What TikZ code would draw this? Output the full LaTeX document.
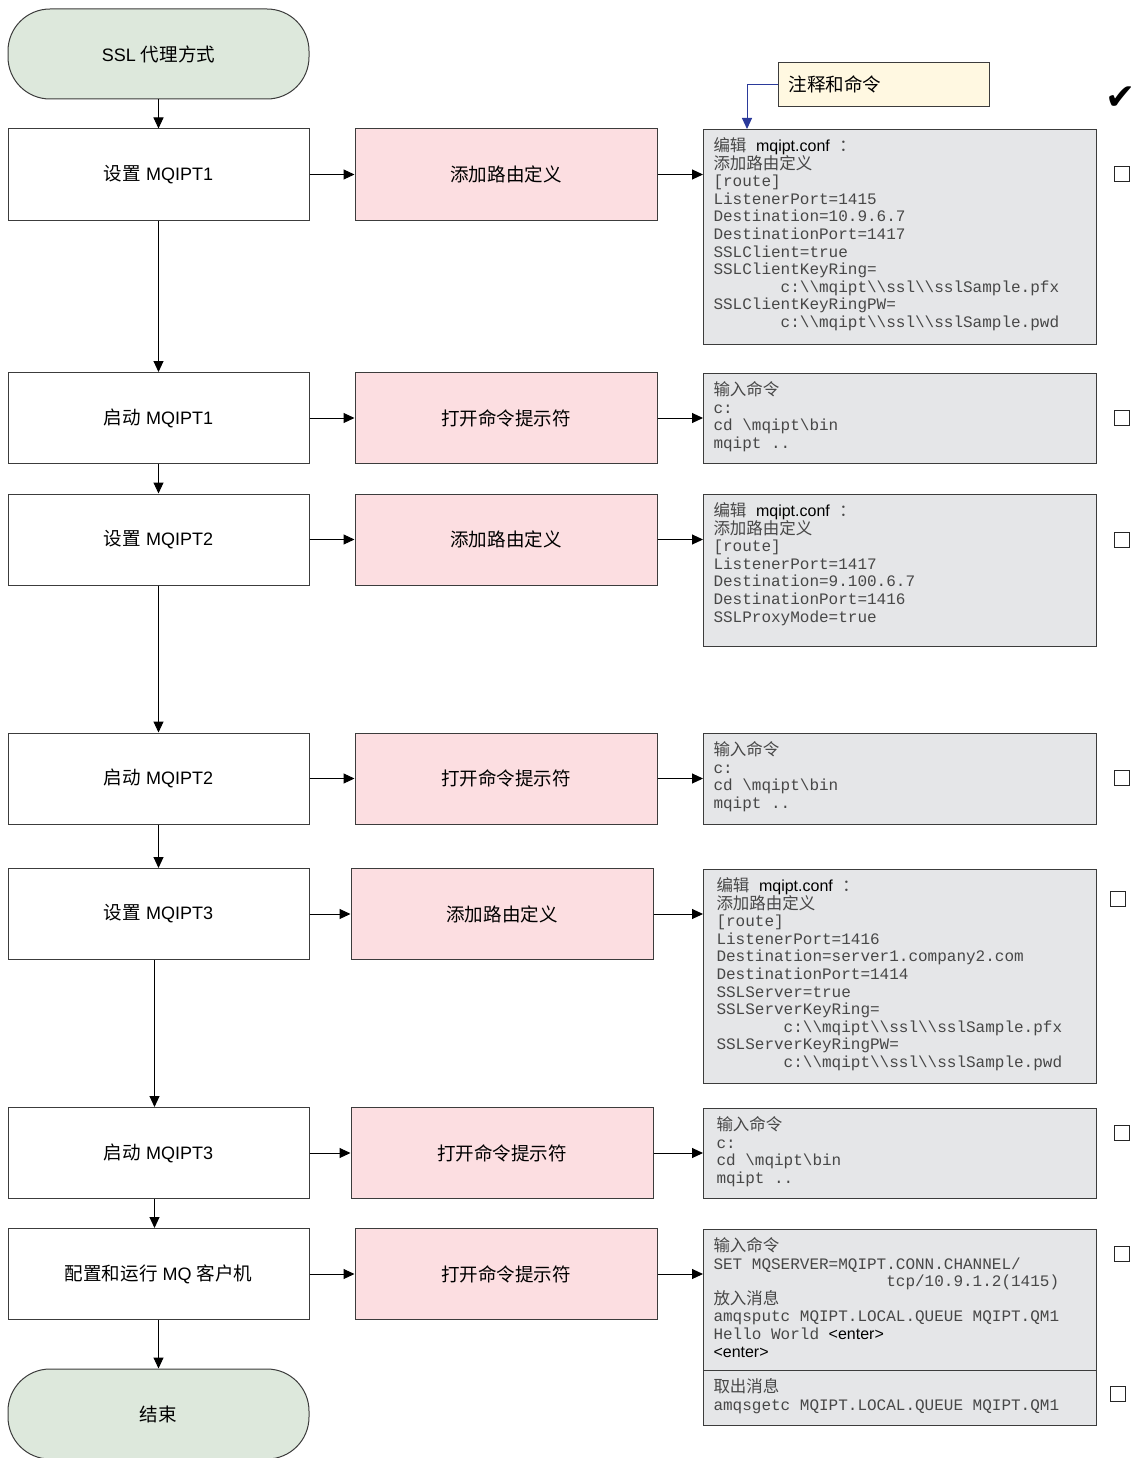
\documentclass[tikz,border=0pt]{standalone}
\usepackage{fontspec}
\setmainfont{Liberation Sans}
\setmonofont{Liberation Mono}
\newfontfamily\cjk{Noto Sans CJK SC}[Scale=1.03]
\newfontfamily\symfont{DejaVu Sans}
\usetikzlibrary{arrows.meta}

\definecolor{termgreen}{HTML}{DDE8DC}
\definecolor{actpink}{HTML}{FCDEE1}
\definecolor{cmdgray}{HTML}{E5E6E8}
\definecolor{notecream}{HTML}{FFF8E1}
\definecolor{noteblue}{HTML}{2B3A9B}
\definecolor{textgray}{HTML}{474747}
\definecolor{edgegray}{HTML}{3C3C3C}

\newcommand\zh[1]{{\cjk #1}}
\newcommand\bs{\textbackslash}
\newcommand\en[1]{\textcolor{black}{\rmfamily #1}}
\newcommand\cmdtext[3][373pt]{\parbox[t][#2][t]{#1}{\raggedright #3}}

\begin{document}
\begin{tikzpicture}[x=1pt, y=-1pt, line width=1pt,
  >={Triangle[length=11pt,width=10pt]},
  term/.style={draw=edgegray, fill=termgreen, rounded corners=42pt,
    minimum width=301pt, minimum height=90pt, font=\fontsize{18}{21}\selectfont},
  stepbox/.style={draw=edgegray, fill=white, minimum width=301pt,
    minimum height=91pt, font=\fontsize{18}{21}\selectfont},
  actbox/.style={draw=edgegray, fill=actpink, minimum width=302pt,
    minimum height=91pt, font=\fontsize{18}{21}\selectfont},
  cmdbox/.style={draw=edgegray, fill=cmdgray, anchor=north west,
    inner xsep=10pt, inner ysep=8pt, text=textgray,
    font=\ttfamily\fontsize{16}{17.6}\selectfont},
  chk/.style={draw=black!85, line width=1.3pt, minimum size=15pt, inner sep=0pt},
  notebox/.style={draw=edgegray, fill=notecream, anchor=north west,
    minimum height=44pt, text width=191pt, inner xsep=10pt,
    font=\fontsize{18}{21}\selectfont}]
\useasboundingbox (0,0) rectangle (1135,1458);

%% left column
\node[term] (start) at (158.5,54) {SSL \zh{代理方式}};
\node[stepbox] (set1) at (158.5,174.5) {\zh{设置} MQIPT1};
\node[stepbox] (run1) at (158.5,418) {\zh{启动} MQIPT1};
\node[stepbox] (set2) at (158.5,539.5) {\zh{设置} MQIPT2};
\node[stepbox] (run2) at (158.5,778.5) {\zh{启动} MQIPT2};
\node[stepbox] (set3) at (158.5,914) {\zh{设置} MQIPT3};
\node[stepbox] (run3) at (158.5,1153) {\zh{启动} MQIPT3};
\node[stepbox] (client) at (158.5,1274) {\zh{配置和运行} MQ \zh{客户机}};
\node[term] (stop) at (158.5,1414) {\zh{结束}};

%% middle column
\node[actbox] (act1) at (506,174.5) {\zh{添加路由定义}};
\node[actbox] (act2) at (506,418) {\zh{打开命令提示符}};
\node[actbox] (act3) at (506,539.5) {\zh{添加路由定义}};
\node[actbox] (act4) at (506,778.5) {\zh{打开命令提示符}};
\node[actbox] (act5) at (502,914) {\zh{添加路由定义}};
\node[actbox] (act6) at (502,1153) {\zh{打开命令提示符}};
\node[actbox] (act7) at (506,1274) {\zh{打开命令提示符}};

%% command boxes
\node[cmdbox] (cmd1) at (703,129) {\cmdtext{199pt}{%
  \zh{编辑} \en{mqipt.conf} \zh{：}\\
  \zh{添加路由定义}\\
  {[route]}\\
  ListenerPort=1415\\
  Destination=10.9.6.7\\
  DestinationPort=1417\\
  SSLClient=true\\
  SSLClientKeyRing=\\
  \hspace*{4.2em}c:\bs\bs{}mqipt\bs\bs{}ssl\bs\bs{}sslSample.pfx\\
  SSLClientKeyRingPW=\\
  \hspace*{4.2em}c:\bs\bs{}mqipt\bs\bs{}ssl\bs\bs{}sslSample.pwd}};
\node[cmdbox] (cmd2) at (703,373) {\cmdtext{74pt}{%
  \zh{输入命令}\\
  c:\\
  cd \bs{}mqipt\bs{}bin\\
  mqipt ..}};
\node[cmdbox] (cmd3) at (703,494) {\cmdtext{136pt}{%
  \zh{编辑} \en{mqipt.conf} \zh{：}\\
  \zh{添加路由定义}\\
  {[route]}\\
  ListenerPort=1417\\
  Destination=9.100.6.7\\
  DestinationPort=1416\\
  SSLProxyMode=true}};
\node[cmdbox] (cmd4) at (703,733) {\cmdtext{75pt}{%
  \zh{输入命令}\\
  c:\\
  cd \bs{}mqipt\bs{}bin\\
  mqipt ..}};
\node[cmdbox, inner xsep=13pt] (cmd5) at (703,869) {\cmdtext[367pt]{198pt}{%
  \zh{编辑} \en{mqipt.conf} \zh{：}\\
  \zh{添加路由定义}\\
  {[route]}\\
  ListenerPort=1416\\
  Destination=server1.company2.com\\
  DestinationPort=1414\\
  SSLServer=true\\
  SSLServerKeyRing=\\
  \hspace*{4.2em}c:\bs\bs{}mqipt\bs\bs{}ssl\bs\bs{}sslSample.pfx\\
  SSLServerKeyRingPW=\\
  \hspace*{4.2em}c:\bs\bs{}mqipt\bs\bs{}ssl\bs\bs{}sslSample.pwd}};
\node[cmdbox, inner xsep=13pt] (cmd6) at (703,1108) {\cmdtext[367pt]{74pt}{%
  \zh{输入命令}\\
  c:\\
  cd \bs{}mqipt\bs{}bin\\
  mqipt ..}};
\node[cmdbox] (cmd7) at (703,1229) {\cmdtext{125pt}{%
  \zh{输入命令}\\
  SET MQSERVER=MQIPT.CONN.CHANNEL/\\
  \hspace*{10.8em}tcp/10.9.1.2(1415)\\
  \zh{放入消息}\\
  amqsputc MQIPT.LOCAL.QUEUE MQIPT.QM1\\
  Hello World \en{<enter>}\\
  \en{<enter>}}};
\node[cmdbox] (cmd8) at (703,1370) {\cmdtext{39pt}{%
  \zh{取出消息}\\
  amqsgetc MQIPT.LOCAL.QUEUE MQIPT.QM1}};

%% note and check boxes
\node[notebox] (note) at (778,62) {\zh{注释和命令}};
\coordinate (notetip) at (747,129);
\node[font=\symfont\fontsize{36}{36}\selectfont] (tick) at (1121,98) {✔};
\node[chk] (chk1) at (1122,174) {};
\node[chk] (chk2) at (1122,418) {};
\node[chk] (chk3) at (1122,540) {};
\node[chk] (chk4) at (1122,778) {};
\node[chk] (chk5) at (1118,899) {};
\node[chk] (chk6) at (1122,1133) {};
\node[chk] (chk7) at (1122,1254) {};
\node[chk] (chk8) at (1118,1394) {};

%%% edges
\draw[->] (start) -- (set1);
\draw[->] (set1) -- (run1);
\draw[->] (run1) -- (set2);
\draw[->] (set2) -- (run2);
\draw[->] (run2) -- (set3);
\draw[->] ([xshift=-4pt]set3.south) -- ([xshift=-4pt]run3.north);
\draw[->] ([xshift=-4pt]run3.south) -- ([xshift=-4pt]client.north);
\draw[->] (client) -- (stop);

\draw[->] (set1) -- (act1);
\draw[->] (run1) -- (act2);
\draw[->] (set2) -- (act3);
\draw[->] (run2) -- (act4);
\draw[->] (set3) -- (act5);
\draw[->] (run3) -- (act6);
\draw[->] (client) -- (act7);

\draw[->] (act1.east) -- (act1.east -| cmd1.west);
\draw[->] (act2.east) -- (act2.east -| cmd2.west);
\draw[->] (act3.east) -- (act3.east -| cmd3.west);
\draw[->] (act4.east) -- (act4.east -| cmd4.west);
\draw[->] (act5.east) -- (act5.east -| cmd5.west);
\draw[->] (act6.east) -- (act6.east -| cmd6.west);
\draw[->] (act7.east) -- (act7.east -| cmd7.west);

\draw[->, noteblue] (note.west) -| (notetip);
\end{tikzpicture}
\end{document}
